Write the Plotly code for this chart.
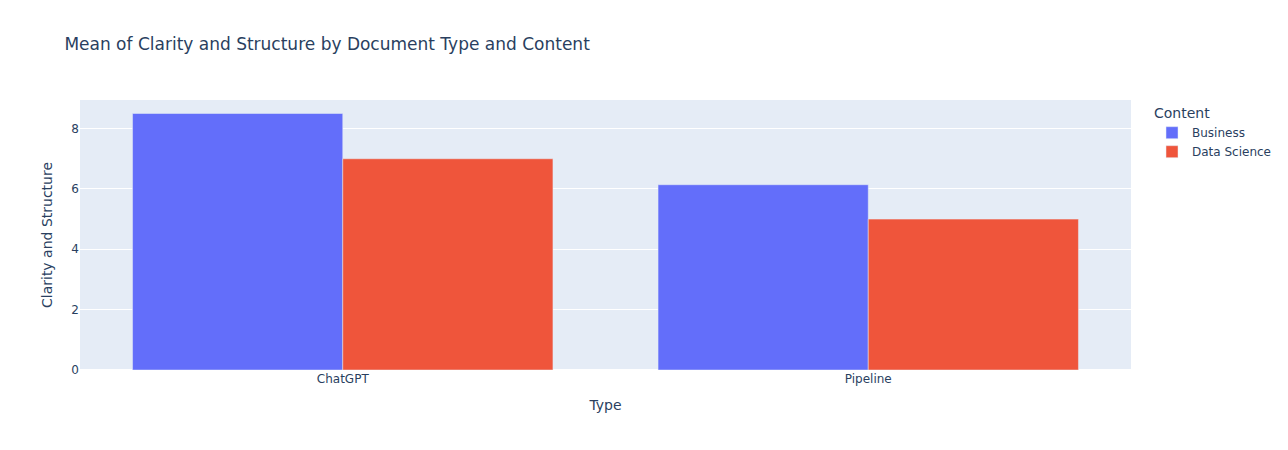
import plotly.graph_objects as go

types = ["ChatGPT", "Pipeline"]
business = [8.5, 6.14]
data_science = [7.0, 5.0]

fig = go.Figure()
fig.add_trace(go.Bar(name="Business", x=types, y=business, marker_color="#636efa",
                     legendgroup="Business"))
fig.add_trace(go.Bar(name="Data Science", x=types, y=data_science, marker_color="#EF553B",
                     legendgroup="Data Science"))
fig.update_layout(
    template="plotly",
    barmode="group",
    font=dict(family="Verdana, DejaVu Sans, sans-serif"),
    title=dict(text="Mean of Clarity and Structure by Document Type and Content"),
    xaxis_title="Type",
    yaxis_title="Clarity and Structure",
    legend=dict(title=dict(text="Content"), tracegroupgap=0),
    width=1288, height=450,
)
fig.write_html("out.html")
